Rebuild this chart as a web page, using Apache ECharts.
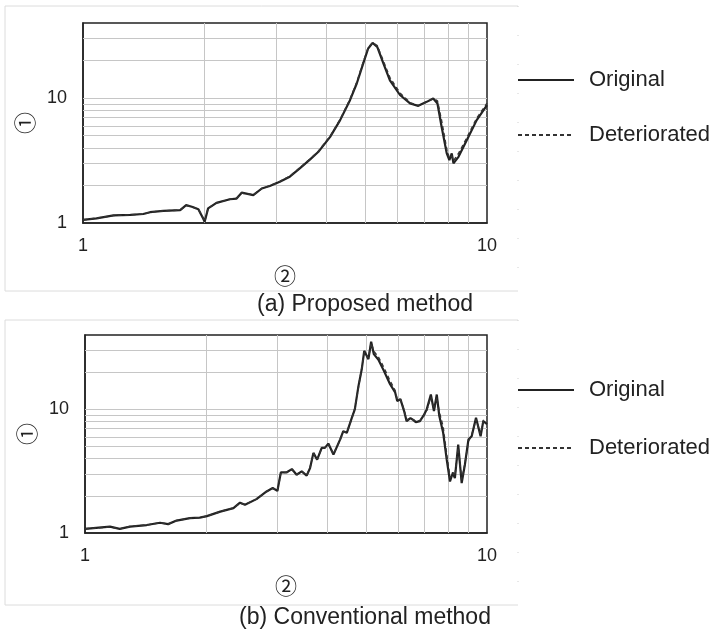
<!DOCTYPE html>
<html style="height: 100%">
   <head>
       <meta charset="utf-8">
   </head>
   <body style="height: 100%; margin: 0; background: #fff">
       <div id="container" style="width: 718px; height: 635px"></div>
       <script type="text/javascript" src="https://cdn.jsdelivr.net/npm/echarts@6/dist/echarts.min.js"></script>
       <script type="text/javascript">
// (a) proposed method
var freqA = [1.00, 1.011, 1.08, 1.19, 1.31, 1.41, 1.465, 1.58, 1.74, 1.80, 1.86, 1.93, 1.985, 2.00, 2.04, 2.14,
    2.31, 2.40, 2.47, 2.64, 2.77, 2.90, 3.07, 3.25, 3.44, 3.65, 3.82, 4.09, 4.33, 4.58, 4.76, 4.94,
    5.08, 5.21, 5.35, 5.54, 5.75, 6.09, 6.45, 6.76, 7.09, 7.36, 7.54, 7.72, 7.95, 8.07, 8.18, 8.26,
    8.50, 8.91, 9.43, 10.0];
var origA = [1.06, 1.07, 1.09, 1.15, 1.16, 1.18, 1.22, 1.25, 1.27, 1.39, 1.35, 1.29, 1.08, 1.02, 1.31, 1.45,
    1.55, 1.57, 1.75, 1.67, 1.89, 1.98, 2.14, 2.35, 2.74, 3.23, 3.70, 4.90, 6.67, 9.64, 13.1, 19.0,
    25.0, 27.7, 25.7, 19.0, 13.9, 10.6, 9.07, 8.68, 9.34, 9.94, 9.07, 5.9, 3.61, 3.19, 3.61, 3.0,
    3.39, 4.61, 6.67, 8.8];
var detA = [1.06, 1.07, 1.09, 1.15, 1.16, 1.18, 1.22, 1.25, 1.27, 1.38, 1.35, 1.29, 1.09, 1.03, 1.31, 1.45,
    1.55, 1.58, 1.74, 1.68, 1.89, 1.99, 2.15, 2.37, 2.76, 3.26, 3.74, 4.95, 6.75, 9.8, 13.4, 19.5,
    25.3, 27.8, 26.3, 19.8, 14.6, 11.0, 9.2, 8.7, 9.3, 9.95, 9.5, 6.6, 3.9, 3.3, 3.45, 3.15,
    3.6, 4.8, 6.9, 9.1];

// (b) conventional method
var freqB = [1.00, 1.006, 1.154, 1.22, 1.294, 1.424, 1.537, 1.61, 1.69, 1.824, 1.93, 2.01, 2.17, 2.34, 2.43, 2.50,
    2.67, 2.83, 2.93, 3.01, 3.07, 3.17, 3.27, 3.36, 3.46, 3.56, 3.63, 3.70, 3.78, 3.88, 3.95, 4.03,
    4.15, 4.31, 4.39, 4.48, 4.61, 4.69, 4.79, 4.88, 4.95, 5.07, 5.15, 5.23, 5.37, 5.54, 5.74, 5.91,
    5.98, 6.09, 6.22, 6.31, 6.45, 6.56, 6.65, 6.81, 6.95, 7.08, 7.25, 7.38, 7.50, 7.61, 7.78, 7.94,
    8.09, 8.22, 8.32, 8.48, 8.65, 8.81, 8.99, 9.16, 9.39, 9.64, 9.79, 10.0];
var origB = [1.08, 1.09, 1.125, 1.08, 1.125, 1.16, 1.21, 1.18, 1.26, 1.32, 1.33, 1.37, 1.49, 1.59, 1.76, 1.69,
    1.88, 2.17, 2.31, 2.19, 3.09, 3.09, 3.29, 2.96, 3.15, 2.91, 3.36, 4.45, 3.92, 4.88, 4.88, 5.29,
    4.31, 5.70, 6.66, 6.46, 8.55, 10.0, 15.5, 21.1, 29.8, 25.5, 35.3, 28.0, 25.2, 20.5, 16.0, 13.7,
    11.7, 12.1, 9.69, 8.04, 8.5, 8.19, 7.9, 8.04, 8.89, 10.0, 13.2, 9.69, 13.2, 8.83, 6.46, 3.92,
    2.61, 3.06, 2.78, 5.19, 2.53, 3.57, 5.70, 6.07, 8.55, 6.07, 8.04, 7.6];
var detB = [1.08, 1.09, 1.12, 1.08, 1.13, 1.16, 1.21, 1.18, 1.26, 1.32, 1.33, 1.37, 1.49, 1.59, 1.75, 1.70,
    1.88, 2.17, 2.30, 2.20, 3.05, 3.10, 3.27, 2.98, 3.15, 2.93, 3.40, 4.40, 3.95, 4.85, 4.90, 5.25,
    4.35, 5.65, 6.60, 6.50, 8.45, 10.2, 15.2, 21.5, 29.0, 26.0, 34.5, 29.5, 26.5, 21.8, 17.0, 14.2,
    12.0, 12.0, 9.9, 8.2, 8.45, 8.25, 8.0, 8.1, 8.8, 9.8, 12.6, 10.0, 12.5, 9.5, 7.2, 4.3,
    2.8, 3.1, 2.9, 4.9, 2.7, 3.6, 5.5, 6.2, 8.3, 6.3, 8.2, 7.9];

var xGridValues = [2, 3, 4, 5, 6, 7, 8, 9];
var yGridValues = [2, 3, 4, 5, 6, 7, 8, 9, 10, 20, 30];
var xLabelName = '②';
var yLabelName = '①';
var captions = ['(a) Proposed method', '(b) Conventional method'];
var seriesNames = ['Original', 'Deteriorated'];

var FONT = '"Liberation Sans", Arial, "DejaVu Sans", "Noto Sans CJK JP", sans-serif';
var CJK = '"Noto Sans CJK JP", "DejaVu Sans", sans-serif';
var INK = '#222';

function zip(xs, ys) {
    return xs.map(function (x, i) { return [x, ys[i]]; });
}
function decadeLabel(v) {
    var l = Math.log10(v);
    return Math.abs(l - Math.round(l)) < 1e-9 ? String(Math.round(v)) : '';
}

var grids = [
    {left: 83, top: 23, width: 404, height: 200},
    {left: 85, top: 335, width: 402, height: 198}
];

var dom = document.getElementById("container");
var myChart = echarts.init(dom, null, {renderer: 'canvas'});

var legendBase = {
    orient: 'vertical', itemWidth: 56, itemHeight: 12,
    selectedMode: false, data: seriesNames,
    itemStyle: {opacity: 0},
    textStyle: {fontSize: 22, color: INK, fontFamily: FONT, padding: [0, 0, 0, 10]}
};

var option = {
    animation: false,
    backgroundColor: '#fff',
    textStyle: {fontFamily: FONT},
    grid: grids.map(function (g) {
        return {left: g.left, top: g.top, width: g.width, height: g.height,
            show: true, borderColor: INK, borderWidth: 1.5, backgroundColor: 'transparent'};
    }),
    xAxis: grids.map(function (g, i) {
        return {
            type: 'log', logBase: 10, min: 1, max: 10, gridIndex: i,
            axisLine: {show: true, lineStyle: {color: INK, width: 1.5}},
            axisTick: {show: false},
            splitLine: {show: false},
            axisLabel: {fontSize: 18, color: INK, margin: 14, fontFamily: FONT, formatter: decadeLabel},
            name: xLabelName, nameLocation: 'middle', nameGap: 42,
            nameTextStyle: {fontSize: 22, color: INK, fontFamily: CJK}
        };
    }),
    yAxis: grids.map(function (g, i) {
        return {
            type: 'log', logBase: 10, min: 1, max: 40, gridIndex: i,
            axisLine: {show: true, lineStyle: {color: INK, width: 1.5}},
            axisTick: {show: false},
            splitLine: {show: false},
            axisLabel: {fontSize: 18, color: INK, margin: 16, fontFamily: FONT, formatter: decadeLabel},
            name: yLabelName, nameLocation: 'middle', nameGap: 44, nameRotate: 90,
            nameTextStyle: {fontSize: 22, color: INK, fontFamily: CJK}
        };
    }),
    legend: [
        Object.assign({left: 512, top: 64, itemGap: 33}, legendBase),
        Object.assign({left: 512, top: 374, itemGap: 36}, legendBase)
    ],
    graphic: [
        {type: 'polyline', silent: true, z: -10, shape: {points: [[518, 6], [5, 6], [5, 291], [518, 291]]},
            style: {stroke: '#dcdcdc', lineWidth: 1, fill: null}},
        {type: 'line', silent: true, z: -10, shape: {x1: 518, y1: 6, x2: 518, y2: 291},
            style: {stroke: '#d0d0d0', lineWidth: 1, lineDash: [1, 28]}},
        {type: 'polyline', silent: true, z: -10, shape: {points: [[518, 320], [5, 320], [5, 605], [518, 605]]},
            style: {stroke: '#dcdcdc', lineWidth: 1, fill: null}},
        {type: 'line', silent: true, z: -10, shape: {x1: 518, y1: 320, x2: 518, y2: 605},
            style: {stroke: '#d0d0d0', lineWidth: 1, lineDash: [1, 28]}},
        {type: 'text', silent: true, x: 365, y: 305,
            style: {text: captions[0], x: 0, y: 0, textAlign: 'center', textVerticalAlign: 'middle',
                font: '23px ' + FONT, fill: INK}},
        {type: 'text', silent: true, x: 365, y: 618,
            style: {text: captions[1], x: 0, y: 0, textAlign: 'center', textVerticalAlign: 'middle',
                font: '23px ' + FONT, fill: INK}}
    ],
    series: []
};

// grid lines are drawn as marker lines on each panel's axes
function gridMarks() {
    return {
        silent: true, symbol: 'none', z: 1,
        label: {show: false},
        emphasis: {disabled: true},
        lineStyle: {color: '#c6c6c6', width: 1, type: 'solid'},
        data: xGridValues.map(function (v) { return {xAxis: v}; })
            .concat(yGridValues.map(function (v) { return {yAxis: v}; }))
    };
}

[[freqA, origA, detA], [freqB, origB, detB]].forEach(function (set, i) {
    option.series.push({
        name: seriesNames[0], type: 'line', xAxisIndex: i, yAxisIndex: i,
        data: zip(set[0], set[1]), symbol: 'none', z: 3,
        lineStyle: {color: INK, width: 2.2, type: 'solid'},
        itemStyle: {color: INK},
        markLine: gridMarks()
    });
    option.series.push({
        name: seriesNames[1], type: 'line', xAxisIndex: i, yAxisIndex: i,
        data: zip(set[0], set[2]), symbol: 'none', z: 4,
        lineStyle: {color: '#333', width: 1.5, type: [4, 3]},
        itemStyle: {color: '#333'}
    });
});

if (option && typeof option === "object") {
    myChart.setOption(option, true);
}
       </script>
   </body>
</html>
